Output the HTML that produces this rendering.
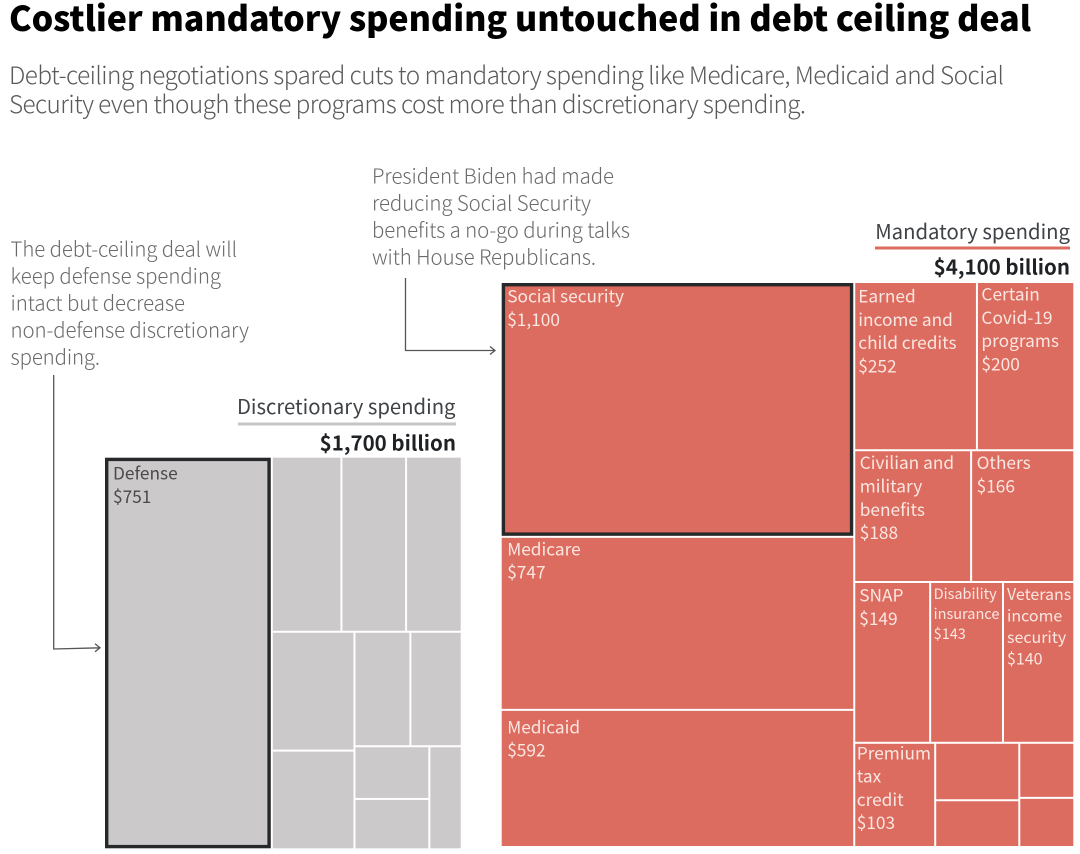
<!DOCTYPE html>
<html lang="en">
<head>
<meta charset="utf-8">
<title>Costlier mandatory spending untouched in debt ceiling deal</title>
<style>
  html, body { margin: 0; padding: 0; background: #fff; }
  body { width: 1080px; height: 854px; overflow: hidden; }
  svg { display: block; font-family: "Noto Sans CJK JP", "Noto Sans CJK SC", "Liberation Sans", sans-serif; }
  .note { font-size: 20.4px; font-weight: 300; fill: #6a6a6a; }
  .sub { font-size: 24.3px; font-weight: 300; fill: #5a5a5a; }
  .head { font-size: 20.3px; font-weight: 400; fill: #3f4246; }
  .total { font-size: 20.5px; font-weight: 700; fill: #1f2225; }
</style>
</head>
<body>
<svg id="chart" xmlns="http://www.w3.org/2000/svg" width="1080" height="854" viewBox="0 0 1080 854">
  <text x="9" y="31" font-size="34" font-weight="900" fill="#000" textLength="1022" lengthAdjust="spacing">Costlier mandatory spending untouched in debt ceiling deal</text>
  <text class="sub" x="9" y="84" textLength="995" lengthAdjust="spacing">Debt-ceiling negotiations spared cuts to mandatory spending like Medicare, Medicaid and Social</text>
  <text class="sub" x="9" y="113" textLength="797" lengthAdjust="spacing">Security even though these programs cost more than discretionary spending.</text>

  <g>
    <text class="note" x="372" y="183.5" textLength="242" lengthAdjust="spacing">President Biden had made</text>
    <text class="note" x="372" y="210.5" textLength="219" lengthAdjust="spacing">reducing Social Security</text>
    <text class="note" x="372" y="237.5" textLength="258" lengthAdjust="spacing">benefits a no-go during talks</text>
    <text class="note" x="372" y="264.5" textLength="224" lengthAdjust="spacing">with House Republicans.</text>
    <path d="M405.5 278V350.5H495M490 346.5L495 350.5L490 354.5" fill="none" stroke="#555" stroke-width="1.3"/>
  </g>

  <g>
    <text class="note" x="10.5" y="256.5" textLength="226.5" lengthAdjust="spacing">The debt-ceiling deal will</text>
    <text class="note" x="10.5" y="283.5" textLength="210.5" lengthAdjust="spacing">keep defense spending</text>
    <text class="note" x="10.5" y="310.5" textLength="174.5" lengthAdjust="spacing">intact but decrease</text>
    <text class="note" x="10.5" y="337.5" textLength="238.5" lengthAdjust="spacing">non-defense discretionary</text>
    <text class="note" x="10.5" y="364.5" textLength="89.5" lengthAdjust="spacing">spending.</text>
    <path d="M53.7 375V649L100 647.8M95 643.8L100 647.8L95 651.8" fill="none" stroke="#555" stroke-width="1.3"/>
  </g>

  <g>
    <text class="head" x="455.5" y="414" text-anchor="end">Discretionary spending</text>
    <line x1="238" x2="456" y1="424" y2="424" stroke="#c6c4c5" stroke-width="3"/>
    <text class="total" x="456" y="450.5" text-anchor="end">$1,700 billion</text>
  </g>

  <g>
    <text class="head" x="1070" y="239" text-anchor="end">Mandatory spending</text>
    <line x1="875" x2="1070" y1="248" y2="248" stroke="#dc6c5f" stroke-width="3"/>
    <text class="total" x="1070" y="274.5" text-anchor="end">$4,100 billion</text>
  </g>

  <g id="discretionary-map"></g>
  <g id="mandatory-map"></g>
</svg>

<script>
// Discretionary spending, $bn (only Defense is labelled; the rest are estimated from tile areas)
const discretionaryNames = ['Defense', '', '', '', '', '', '', '', '', '', ''];
const discretionaryValues = [751, 139, 129, 111, 112, 93, 73, 67, 45, 43, 38];
// Nesting of tiles: 'h' splits left-to-right, 'v' splits top-to-bottom; numbers index the arrays
const discretionaryTree = ['h', 0, ['v', ['h', 1, 2, 3], ['h', ['v', 4, 5], ['v', ['h', 6, 7], ['h', ['v', 8, 9], 10]]]]];

// Mandatory spending, $bn (last four unlabelled tiles estimated from areas)
const mandatoryNames = ['Social security', 'Medicare', 'Medicaid',
  'Earned|income and|child credits', 'Certain|Covid-19|programs',
  'Civilian and|military|benefits', 'Others',
  'SNAP', 'Disability|insurance', 'Veterans|income|security',
  'Premium|tax|credit', '', '', '', ''];
const mandatoryValues = [1100, 747, 592, 252, 200, 188, 166, 149, 143, 140, 103, 59, 48, 37, 33];
const mandatoryTree = ['h', ['v', 0, 1, 2], ['v', ['h', 3, 4], ['h', 5, 6], ['h', 7, 8, 9], ['h', 10, ['v', 11, 12], ['v', 13, 14]]]];

const SVG_NS = 'http://www.w3.org/2000/svg';
const GAP = 2;

function nodeSum(node, values) {
  if (typeof node === 'number') return values[node];
  return node.slice(1).reduce(function (t, c) { return t + nodeSum(c, values); }, 0);
}

function layout(node, box, values, out) {
  if (typeof node === 'number') {
    out.push({ index: node, x: box.x + GAP / 2, y: box.y + GAP / 2, w: box.w - GAP, h: box.h - GAP });
    return;
  }
  const total = nodeSum(node, values);
  let cursor = node[0] === 'h' ? box.x : box.y;
  node.slice(1).forEach(function (child) {
    const share = nodeSum(child, values) / total;
    if (node[0] === 'h') {
      layout(child, { x: cursor, y: box.y, w: box.w * share, h: box.h }, values, out);
      cursor += box.w * share;
    } else {
      layout(child, { x: box.x, y: cursor, w: box.w, h: box.h * share }, values, out);
      cursor += box.h * share;
    }
  });
}

function money(v) { return '$' + v.toLocaleString('en-US'); }
function slug(s) { return s.toLowerCase().replace(/[^a-z0-9]+/g, '-').replace(/^-|-$/g, ''); }

function drawMap(opts) {
  const parent = document.getElementById(opts.target);
  const cells = [];
  layout(opts.tree, opts.box, opts.values, cells);
  cells.forEach(function (c) {
    const label = opts.names[c.index] || '';
    const highlighted = opts.highlight.indexOf(c.index) >= 0;
    const tile = document.createElementNS(SVG_NS, 'rect');
    
    
    const inset = highlighted ? 1.7 : 0;
    tile.setAttribute('x', c.x + inset);
    tile.setAttribute('y', c.y + inset);
    tile.setAttribute('width', c.w - inset * 2);
    tile.setAttribute('height', c.h - inset * 2);
    tile.setAttribute('fill', opts.fill);
    if (highlighted) {
      tile.setAttribute('stroke', '#26282a');
      tile.setAttribute('stroke-width', '3.4');
    }
    parent.appendChild(tile);
    if (!label) return;
    const st = Object.assign({ dx: 5, dy: 20, size: 17.3, lh: 23.3 }, opts.labelStyle[c.index] || {});
    const text = document.createElementNS(SVG_NS, 'text');
    
    
    text.setAttribute('font-size', st.size);
    text.setAttribute('font-weight', '400');
    text.setAttribute('fill', opts.textFill);
    label.split('|').concat(money(opts.values[c.index])).forEach(function (line, i) {
      const span = document.createElementNS(SVG_NS, 'tspan');
      span.setAttribute('x', c.x + st.dx);
      span.setAttribute('y', c.y + st.dy + i * st.lh);
      span.textContent = line;
      text.appendChild(span);
    });
    parent.appendChild(text);
  });
}

drawMap({
  target: 'discretionary-map', prefix: 'discretionary',
  tree: discretionaryTree, names: discretionaryNames, values: discretionaryValues,
  box: { x: 104, y: 456.7, w: 357.7, h: 392.6 },
  fill: '#cbc9ca', textFill: '#4a4a4a', highlight: [0],
  labelStyle: { 0: { dx: 8, dy: 22 } }
});

drawMap({
  target: 'mandatory-map', prefix: 'mandatory',
  tree: mandatoryTree, names: mandatoryNames, values: mandatoryValues,
  box: { x: 500.7, y: 282, w: 573.6, h: 565 },
  fill: '#dc6c5f', textFill: '#fbe6e1', highlight: [0],
  labelStyle: {
    0: { dx: 5.5, dy: 19.5 },
    1: { dx: 5.5, dy: 17.5 },
    2: { dx: 5.5, dy: 22.5 },
    3: { dx: 3, dy: 19.5 },
    4: { dx: 3.5, dy: 17.5 },
    5: { dx: 4.5, dy: 18 },
    6: { dx: 4.5, dy: 18 },
    7: { dx: 4, dy: 18.5 },
    8: { dx: 2.5, dy: 16, size: 14.5, lh: 20 },
    9: { dx: 3, dy: 17, size: 16, lh: 21.5 },
    10: { dx: 1.5, dy: 15.5 }
  }
});
</script>
</body>
</html>
